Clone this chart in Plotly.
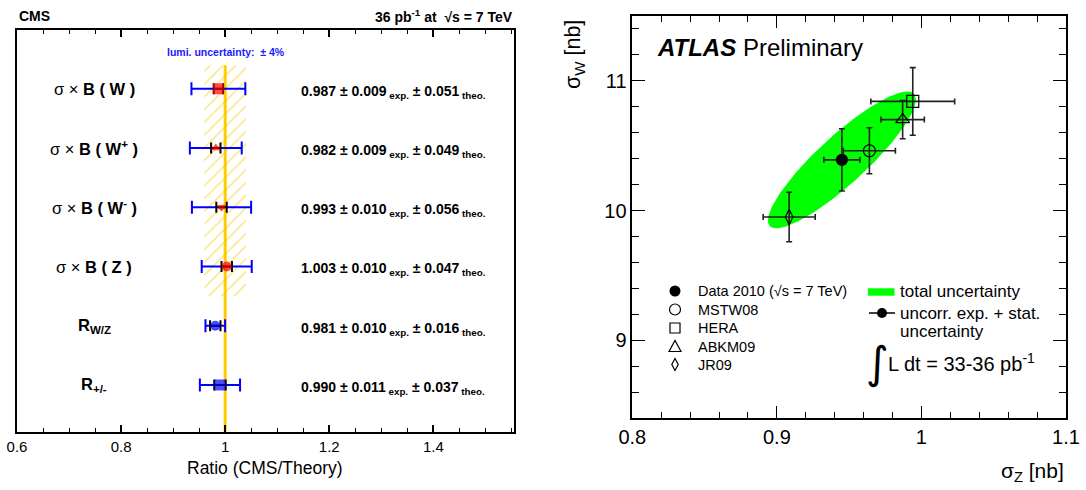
import numpy as np
import plotly.graph_objects as go

W, H = 1086, 490

# ---------------- CMS panel data ----------------
cms_labels = ["σ × <b>B ( W )</b>", "σ × <b>B ( W<sup>+</sup> )</b>", "σ × <b>B ( W<sup>-</sup> )</b>",
              "σ × <b>B ( Z )</b>", "<b>R<sub>W/Z</sub></b>", "<b>R<sub>+/-</sub></b>"]
cms_ratio = [0.987, 0.982, 0.993, 1.003, 0.981, 0.990]
cms_exp = [0.009, 0.009, 0.010, 0.010, 0.010, 0.011]
cms_theo = [0.051, 0.049, 0.056, 0.047, 0.016, 0.037]
cms_row = [6, 5, 4, 3, 2, 1]
cms_symbol = ["square", "triangle-up", "triangle-down", "circle", "circle", "square"]
cms_color = ["#ff0000", "#ff0000", "#ff0000", "#ff0000", "#0000ff", "#0000ff"]
cms_size = [11, 9, 9, 10, 10, 11]
lumi_unc = 0.04

# ---------------- ATLAS panel data ----------------
atlas_names = ["Data 2010", "MSTW08", "HERA", "ABKM09", "JR09"]
sig_z = [0.945, 0.964, 0.994, 0.987, 0.9085]
sig_w = [10.39, 10.46, 10.84, 10.70, 9.95]
err_z = [0.0125, 0.018, 0.029, 0.015, 0.018]
err_w = [0.24, 0.177, 0.26, 0.147, 0.19]
atlas_symbol = ["circle", "circle-open", "square-open", "triangle-up-open", "diamond-tall-open"]
atlas_size = [11, 12, 12, 12, 11]
# total-uncertainty ellipse for the data point
ell_sz, ell_sw, ell_rho = 0.0512, 0.527, 0.885

SANS = "Liberation Sans"


def px(x):
    return x / W


def py(y):
    return 1 - y / H


fig = go.Figure()

# luminosity hatch band
fig.add_trace(go.Scatter(
    x=[1 - lumi_unc, 1 + lumi_unc, 1 + lumi_unc, 1 - lumi_unc, 1 - lumi_unc],
    y=[2.5, 2.5, 6.4, 6.4, 2.5], mode="lines", line=dict(width=0),
    fill="toself", fillcolor="rgba(255,255,255,0)",
    fillpattern=dict(shape="/", fgcolor="#f7c600", bgcolor="rgba(255,255,255,0)", size=9, solidity=0.16),
    hoverinfo="skip", showlegend=False, xaxis="x", yaxis="y"))

tot = [float(np.hypot(e, t)) for e, t in zip(cms_exp, cms_theo)]
# total error (blue)
fig.add_trace(go.Scatter(
    x=cms_ratio, y=cms_row, mode="markers", marker=dict(size=1, opacity=0),
    error_x=dict(type="data", array=tot, color="#0000ff", thickness=2, width=6.5),
    showlegend=False, xaxis="x", yaxis="y"))
# experimental error (black) + markers
fig.add_trace(go.Scatter(
    x=cms_ratio, y=cms_row, mode="markers",
    marker=dict(symbol=cms_symbol, color=cms_color, size=cms_size, line=dict(width=0)),
    error_x=dict(type="data", array=cms_exp, color="black", thickness=2, width=5.5),
    showlegend=False, xaxis="x", yaxis="y"))

# ATLAS ellipse
t = np.linspace(0, 2 * np.pi, 200)
ex = sig_z[0] + ell_sz * np.cos(t)
ey = sig_w[0] + ell_sw * (ell_rho * np.cos(t) + np.sqrt(1 - ell_rho ** 2) * np.sin(t))
fig.add_trace(go.Scatter(x=ex, y=ey, mode="lines", line=dict(width=0), fill="toself",
                         fillcolor="#00ff00", hoverinfo="skip", showlegend=False,
                         xaxis="x2", yaxis="y2"))

for i in range(len(sig_z)):
    fig.add_trace(go.Scatter(
        x=[sig_z[i]], y=[sig_w[i]], mode="markers", name=atlas_names[i],
        marker=dict(symbol=atlas_symbol[i], color="black", size=atlas_size[i], line=dict(width=1.2, color="black")),
        error_x=dict(type="data", array=[err_z[i]], color="#222222", thickness=1.6, width=3),
        error_y=dict(type="data", array=[err_w[i]], color="#222222", thickness=1.6, width=3),
        showlegend=False, xaxis="x2", yaxis="y2"))

shapes = [
    dict(type="line", xref="x", yref="y", x0=1, x1=1, y0=0.206, y1=6.4,
         line=dict(color="#ffcc00", width=3), layer="below"),
]

ann = []
# CMS row labels and values
for lab, r, e, th, row in zip(cms_labels, cms_ratio, cms_exp, cms_theo, cms_row):
    ann.append(dict(text=lab, xref="paper", yref="y", x=px(94), y=row, xanchor="center", yanchor="middle",
                    showarrow=False, font=dict(family=SANS, size=16.5, color="black")))
    ann.append(dict(text=f"<b>{r:.3f} ± {e:.3f}<sub> exp.</sub> ± {th:.3f}<sub> theo.</sub></b>",
                    xref="paper", yref="y", x=px(299), y=row - 0.05, xanchor="left", yanchor="middle",
                    showarrow=False, font=dict(family=SANS, size=14, color="black")))

ann += [
    dict(text="<b>CMS</b>", x=px(17), y=py(16), xanchor="left", yanchor="middle",
         font=dict(family=SANS, size=14, color="black")),
    dict(text="<b>36 pb<sup>-1</sup> at  √s = 7 TeV</b>", x=px(515), y=py(16), xanchor="right", yanchor="middle",
         font=dict(family=SANS, size=14, color="black")),
    dict(text="<b>lumi. uncertainty:  ± 4%</b>", x=px(226), y=py(51.5), xanchor="center", yanchor="middle",
         font=dict(family=SANS, size=10.5, color="#1a1aff")),
    dict(text="Ratio (CMS/Theory)", x=px(265), y=py(468), xanchor="center", yanchor="middle",
         font=dict(family=SANS, size=17.5, color="black")),
    # ATLAS texts
    dict(text="<b><i>ATLAS</i></b> Preliminary", x=px(655), y=py(47), xanchor="left", yanchor="middle",
         font=dict(family=SANS, size=24, color="black")),
    dict(text="σ<sub>W</sub> [nb]", x=px(574), y=py(55), xanchor="center", yanchor="middle", textangle=-90,
         font=dict(family=SANS, size=21.5, color="black")),
    dict(text="σ<sub>Z</sub> [nb]", x=px(1066), y=py(472), xanchor="right", yanchor="middle",
         font=dict(family=SANS, size=21, color="black")),
]

# ATLAS legend (left column)
leg_y = [291, 309.5, 328, 346.5, 364.5]
leg_txt = ["Data 2010 (√s = 7 TeV)", "MSTW08", "HERA", "ABKM09", "JR09"]
for yy, tx in zip(leg_y, leg_txt):
    ann.append(dict(text=tx, x=px(696), y=py(yy), xanchor="left", yanchor="middle",
                    font=dict(family=SANS, size=14.5, color="black")))
lx = 675
shapes += [
    dict(type="circle", xref="paper", yref="paper", x0=px(lx - 5.5), x1=px(lx + 5.5), y0=py(leg_y[0] + 5.5),
         y1=py(leg_y[0] - 5.5), fillcolor="black", line=dict(width=0)),
    dict(type="circle", xref="paper", yref="paper", x0=px(lx - 5.5), x1=px(lx + 5.5), y0=py(leg_y[1] + 5.5),
         y1=py(leg_y[1] - 5.5), line=dict(width=1.2, color="black")),
    dict(type="rect", xref="paper", yref="paper", x0=px(lx - 5), x1=px(lx + 5), y0=py(leg_y[2] + 5),
         y1=py(leg_y[2] - 5), line=dict(width=1.2, color="black")),
    dict(type="path", xref="paper", yref="paper",
         path=f"M {px(lx-6)} {py(leg_y[3]+5)} L {px(lx+6)} {py(leg_y[3]+5)} L {px(lx)} {py(leg_y[3]-6)} Z",
         line=dict(width=1.2, color="black")),
    dict(type="path", xref="paper", yref="paper",
         path=f"M {px(lx)} {py(leg_y[4]-6)} L {px(lx+3.2)} {py(leg_y[4])} L {px(lx)} {py(leg_y[4]+6)} L {px(lx-3.2)} {py(leg_y[4])} Z",
         line=dict(width=1.2, color="black")),
    # right column keys
    dict(type="rect", xref="paper", yref="paper", x0=px(868), x1=px(894.5), y0=py(295.7), y1=py(288.3),
         fillcolor="#00ff00", line=dict(width=0)),
    dict(type="line", xref="paper", yref="paper", x0=px(869), x1=px(895), y0=py(313), y1=py(313),
         line=dict(width=1.5, color="black")),
    dict(type="circle", xref="paper", yref="paper", x0=px(877), x1=px(887), y0=py(318), y1=py(308),
         fillcolor="black", line=dict(width=0)),
]
ann += [
    dict(text="total uncertainty", x=px(898), y=py(291), xanchor="left", yanchor="middle",
         font=dict(family=SANS, size=17, color="black")),
    dict(text="uncorr. exp. + stat.", x=px(898), y=py(313), xanchor="left", yanchor="middle",
         font=dict(family=SANS, size=17, color="black")),
    dict(text="uncertainty", x=px(898), y=py(331), xanchor="left", yanchor="middle",
         font=dict(family=SANS, size=17, color="black")),
    dict(text="∫", x=px(877), y=py(362), xanchor="center", yanchor="middle",
         font=dict(family="DejaVu Sans", size=44, color="black")),
    dict(text="L dt = 33-36 pb<sup>-1</sup>", x=px(886), y=py(362), xanchor="left", yanchor="middle",
         font=dict(family=SANS, size=20, color="black")),
]
for a in ann:
    a.setdefault("xref", "paper")
    a.setdefault("yref", "paper")
    a["showarrow"] = False

fig.update_layout(
    width=W, height=H, margin=dict(l=0, r=0, t=0, b=0, pad=0, autoexpand=False),
    paper_bgcolor="white", plot_bgcolor="white", showlegend=False,
    shapes=shapes, annotations=ann,
    xaxis=dict(domain=[px(17), px(514)], anchor="y", range=[0.6, 1.555], tickmode="linear", tick0=0.6, dtick=0.2,
               ticks="inside", ticklen=7, tickwidth=1.5, tickcolor="black", automargin=False,
               minor=dict(tickmode="linear", tick0=0.6, dtick=0.05, ticks="inside", ticklen=4, tickwidth=1,
                          tickcolor="black"),
               showline=True, linewidth=2, linecolor="black", mirror="ticks", showgrid=False, zeroline=False,
               tickfont=dict(family=SANS, size=15, color="black")),
    yaxis=dict(domain=[py(432), py(29.6)], anchor="x", range=[0.206, 7.0], showticklabels=False, ticks="",
               automargin=False,
               showline=True, linewidth=2, linecolor="black", mirror=True, showgrid=False, zeroline=False),
    xaxis2=dict(domain=[px(632.3), px(1066)], anchor="y2", range=[0.8, 1.1], tickmode="linear", tick0=0.8,
                dtick=0.1, ticks="inside", ticklen=13, tickwidth=1.2, tickcolor="black", automargin=False,
                minor=dict(tickmode="linear", tick0=0.8, dtick=0.02, ticks="inside", ticklen=6.5, tickwidth=1.2,
                           tickcolor="black"),
                showline=True, linewidth=1.5, linecolor="black", mirror="ticks", showgrid=False, zeroline=False,
                tickfont=dict(family=SANS, size=20, color="black")),
    yaxis2=dict(domain=[py(418.3), py(15.7)], anchor="x2", range=[8.4, 11.5], tickmode="linear", tick0=9,
                dtick=1, ticks="inside", ticklen=13, tickwidth=1.2, tickcolor="black", automargin=False,
                minor=dict(tickmode="linear", tick0=8.4, dtick=0.2, ticks="inside", ticklen=7, tickwidth=1.2,
                           tickcolor="black"),
                showline=True, linewidth=1.5, linecolor="black", mirror="ticks", showgrid=False, zeroline=False,
                tickfont=dict(family=SANS, size=20, color="black")),
)

fig.write_html("out.html", config={"displayModeBar": False},
               post_script="document.body.style.margin='0';document.body.style.overflow='hidden';")
